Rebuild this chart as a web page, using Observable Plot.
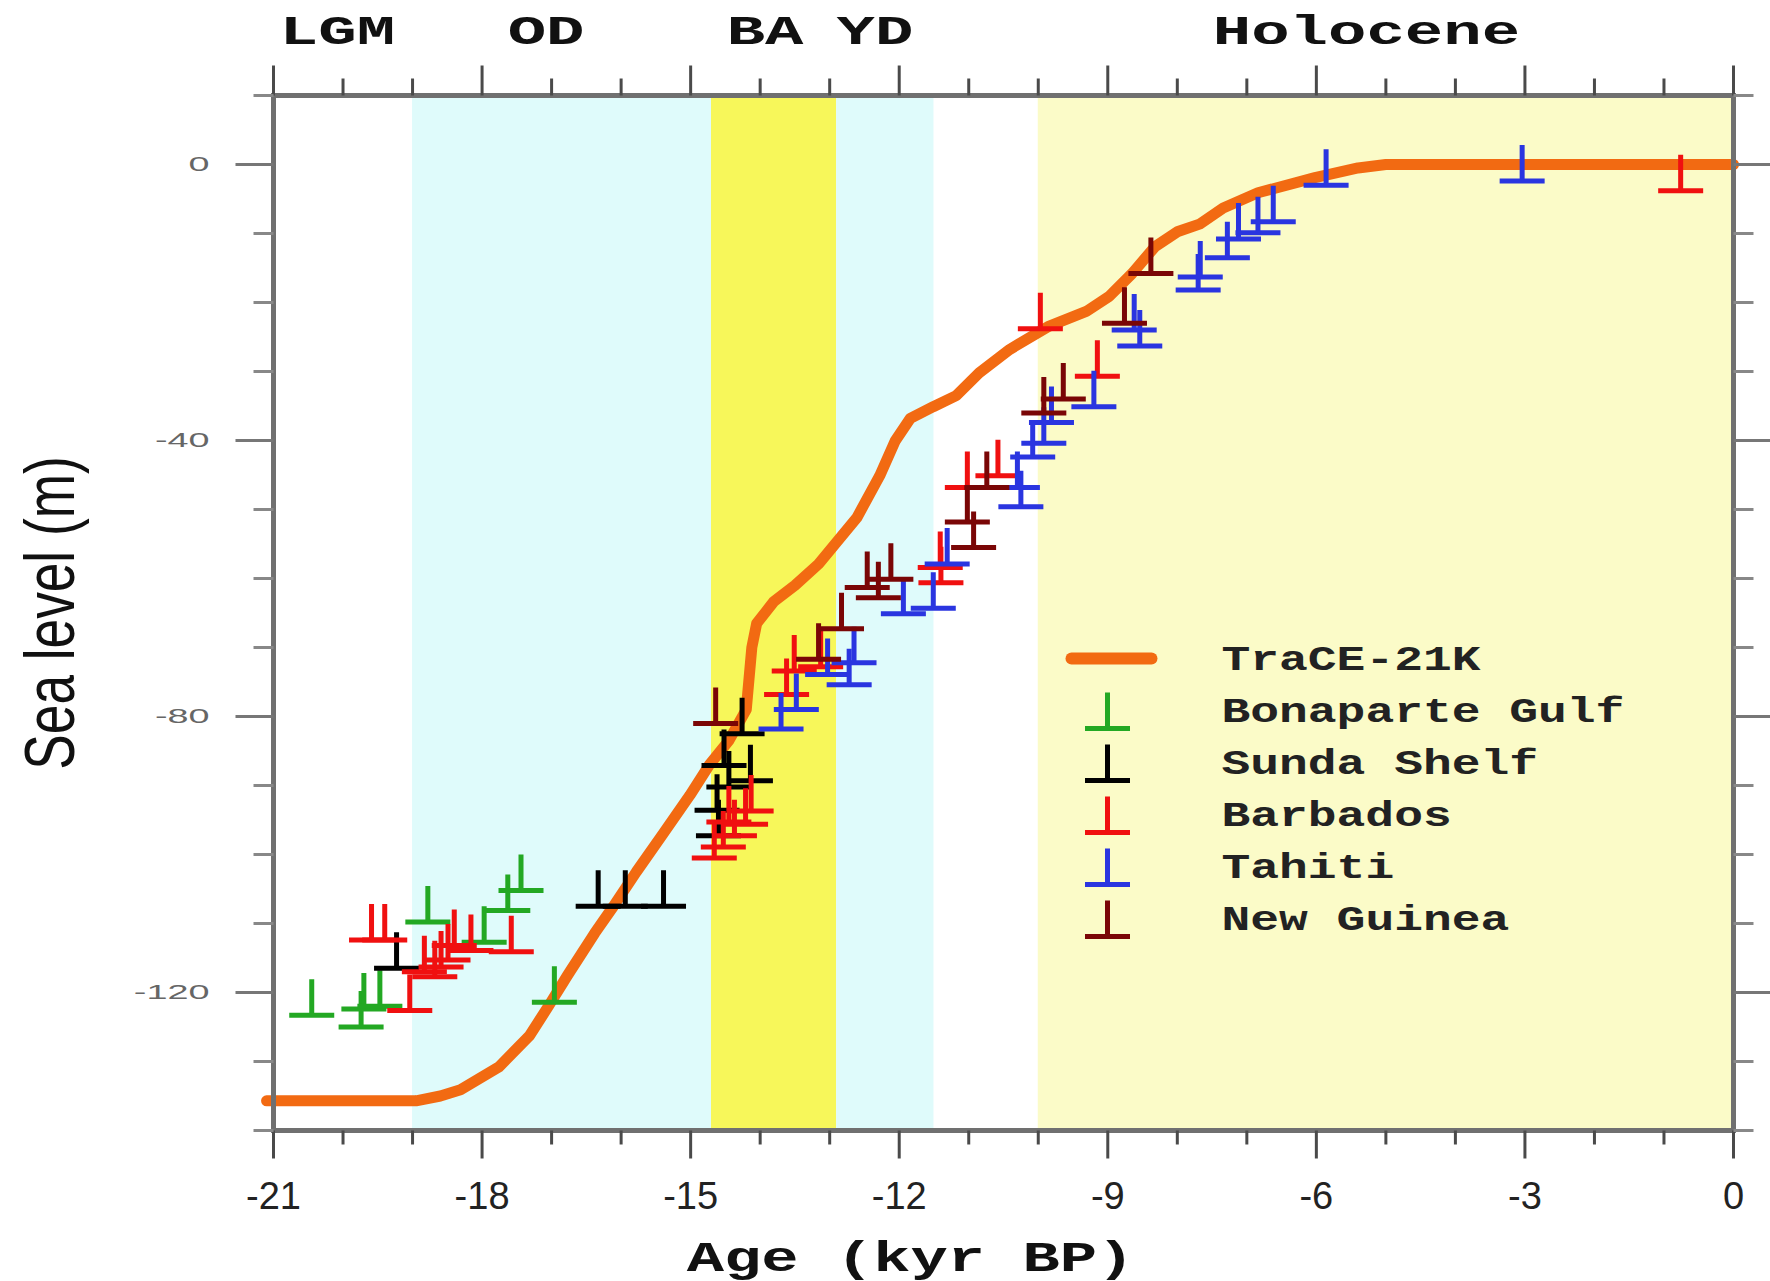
<!DOCTYPE html>
<html>
<head>
<meta charset="utf-8">
<script src="https://cdn.jsdelivr.net/npm/d3@7"></script>
<script src="https://cdn.jsdelivr.net/npm/@observablehq/plot@0.6"></script>
<style>html,body{margin:0;padding:0;background:#fff;}</style>
</head>
<body>
<div id="chart"></div>
<script>
// ---- TraCE-21K simulated sea level (kyr BP, m)
const traceAge = [-21.1,-18.95,-18.6,-18.31,-17.76,-17.32,-17.04,-16.77,-16.38,-16.11,-15.78,-15.39,-15.01,-14.73,-14.45,-14.2,-14.12,-14.05,-13.8,-13.5,-13.16,-12.61,-12.28,-12.06,-11.84,-11.51,-11.18,-10.85,-10.41,-9.86,-9.31,-8.98,-8.65,-8.32,-7.99,-7.67,-7.34,-6.84,-6.02,-5.4,-5.0,0];
const traceSL  = [-135.7,-135.7,-135.0,-134.1,-130.8,-126.3,-121.9,-117.5,-111.4,-107.5,-102.5,-96.9,-91.4,-87.0,-83.5,-79.0,-70.0,-66.5,-63.3,-61.0,-57.9,-51.2,-45.1,-40.1,-36.8,-35.1,-33.5,-30.2,-26.8,-23.5,-21.3,-19.1,-15.8,-11.9,-9.7,-8.6,-6.3,-4.1,-1.9,-0.5,0,0];

// ---- Proxy reconstructions
const bonaparteAge = [-20.45,-19.74,-19.7,-19.47,-18.78,-17.97,-17.63,-17.44,-16.96];
const bonaparteSL  = [-123.3,-125.0,-122.4,-122.0,-109.8,-112.7,-108.1,-105.2,-121.4];

const sundaAge = [-19.23,-16.33,-15.94,-15.39,-14.26,-14.52,-14.14,-14.45,-14.62,-14.6];
const sundaSL  = [-116.5,-107.5,-107.5,-107.5,-82.5,-87.1,-89.3,-90.2,-93.6,-97.3];

const barbadosAge = [-19.59,-19.40,-19.04,-18.83,-18.68,-18.59,-18.49,-18.40,-18.16,-17.58,-14.66,-14.53,-14.37,-14.21,-14.13,-14.45,-13.62,-13.51,-13.13,-11.41,-11.40,-11.02,-10.58,-9.97,-9.15,-0.76];
const barbadosSL  = [-112.4,-112.4,-122.6,-117.0,-117.7,-116.3,-115.3,-113.2,-113.9,-114.1,-100.5,-98.9,-97.3,-95.6,-93.7,-95.3,-76.8,-73.4,-72.8,-58.4,-60.6,-46.8,-45.1,-23.8,-30.7,-3.8];

const tahitiAge = [-13.7,-13.48,-13.03,-12.72,-12.65,-11.94,-11.51,-11.31,-10.30,-10.25,-10.08,-9.92,-9.81,-9.2,-8.62,-8.54,-7.70,-7.67,-7.28,-7.12,-6.84,-6.62,-5.86,-3.04];
const tahitiSL  = [-81.8,-79.0,-73.9,-75.4,-72.2,-65.1,-64.3,-57.9,-46.8,-49.6,-42.4,-40.4,-37.4,-35.1,-24.0,-26.3,-18.2,-16.3,-13.5,-10.8,-9.9,-8.3,-3.0,-2.4];

const guineaAge = [-14.64,-13.16,-12.83,-12.46,-12.3,-12.12,-11.02,-10.93,-10.74,-9.92,-9.64,-8.76,-8.38];
const guineaSL  = [-81.0,-71.7,-67.3,-61.3,-62.8,-60.1,-51.8,-55.5,-46.8,-36.0,-34.0,-23.0,-15.8];

// ---- Climate periods (shading) and their labels
const bandStart = [-19.0,-14.7,-12.9,-10.0];
const bandEnd   = [-14.7,-12.9,-11.5,0.0];
const bandFill  = ["#dffbfb","#f7f75a","#dffbfb","#fbfbc8"];

const periodNames = ["LGM","OD","BA","YD","Holocene"];
const periodAt    = [-20.08,-17.08,-13.93,-12.35,-5.28];

// ---- Axis ticks
const xMajor = d3.range(-21, 1, 3);
const xMinor = d3.range(-21, 1).filter(d => d % 3 !== 0);
const yMajor = [0,-40,-80,-120];
const yMinor = d3.range(-140, 11, 10).filter(d => !yMajor.includes(d));

const xTitle = "Age (kyr BP)";
const yTitle = "Sea level (m)";

// ---- Series metadata
const seriesNames  = ["Bonaparte Gulf","Sunda Shelf","Barbados","Tahiti","New Guinea"];
const seriesColors = ["#23a823","#000000","#f01010","#2a35e0","#7a0606"];
const seriesAges   = [bonaparteAge, sundaAge, barbadosAge, tahitiAge, guineaAge];
const seriesSLs    = [bonaparteSL, sundaSL, barbadosSL, tahitiSL, guineaSL];
const traceName = "TraCE-21K";
const traceColor = "#f26a12";

// tables built from arrays
const trace = traceAge.map((a, i) => ({age: a, sl: traceSL[i]}));
const bands = bandStart.map((s, i) => ({start: s, end: bandEnd[i], fill: bandFill[i]}));
const periods = periodNames.map((n, i) => ({name: n, at: periodAt[i]}));
const series = seriesNames.map((n, i) => ({
  name: n, color: seriesColors[i],
  rows: seriesAges[i].map((a, j) => ({age: a, sl: seriesSLs[i][j]}))
}));

// symbols (pixel-space shapes)
const tee = {
  draw(ctx, size) {
    const r = Math.sqrt(size / Math.PI);
    ctx.moveTo(-2.25 * r, 0); ctx.lineTo(2.25 * r, 0);
    ctx.moveTo(0, 0); ctx.lineTo(0, -3.6 * r);
  }
};
const dash = {
  draw(ctx, size) {
    const r = Math.sqrt(size / Math.PI);
    ctx.moveTo(-4 * r, 0); ctx.lineTo(4 * r, 0);
  }
};
const vTick = len => ({draw(ctx) { ctx.moveTo(0, 0); ctx.lineTo(0, len); }});
const hTick = len => ({draw(ctx) { ctx.moveTo(0, 0); ctx.lineTo(len, 0); }});

const monoFont = "Liberation Mono, DejaVu Sans Mono, monospace";
const sansFont = "Liberation Sans, Arial, sans-serif";
const axisColor = "#4a4a4a";

function xTicks(values, anchor, len, color) {
  return Plot.dot(values, {x: d => d, frameAnchor: anchor, symbol: vTick(len), stroke: color, strokeWidth: 3, fill: "none"});
}
function yTicks(values, anchor, len, color) {
  return Plot.dot(values, {y: d => d, frameAnchor: anchor, symbol: hTick(len), stroke: color, strokeWidth: 3, fill: "none"});
}

const legendMarks = [
  Plot.dot([traceName], {frameAnchor: "top-left", dx: 838, dy: 563, symbol: dash, r: 10, stroke: traceColor, strokeWidth: 12, strokeLinecap: "round", fill: "none"}),
  Plot.text([traceName], {frameAnchor: "top-left", dx: 948, dy: 563, text: d => d, textAnchor: "start", lineAnchor: "middle", fontFamily: monoFont, fontWeight: "bold", fontSize: 35, fill: "#222"})
];
series.forEach((s, i) => {
  legendMarks.push(Plot.dot([s.name], {frameAnchor: "top-left", dx: 834, dy: 581 + 52 * (i + 1), symbol: tee, r: 10, stroke: s.color, strokeWidth: 5, fill: "none"}));
  legendMarks.push(Plot.text([s.name], {frameAnchor: "top-left", dx: 948, dy: 563 + 52 * (i + 1), text: d => d, textAnchor: "start", lineAnchor: "middle", fontFamily: monoFont, fontWeight: "bold", fontSize: 35, fill: "#222"}));
});

const chart = Plot.plot({
  width: 1770,
  height: 1281,
  marginLeft: 273,
  marginRight: 37,
  marginTop: 95,
  marginBottom: 151,
  style: {background: "white", overflow: "visible"},
  x: {domain: [-21, 0], axis: null},
  y: {domain: [-140, 10], axis: null},
  marks: [
    Plot.rect(bands, {x1: "start", x2: "end", fill: "fill"}),
    Plot.line(trace, {x: "age", y: "sl", stroke: traceColor, strokeWidth: 11, strokeLinejoin: "round"}),
    ...series.map(s => Plot.dot(s.rows, {x: "age", y: "sl", symbol: tee, r: 10, stroke: s.color, strokeWidth: 5, fill: "none"})),
    Plot.frame({stroke: "#707070", strokeWidth: 5}),
    xTicks(xMajor, "bottom", 28, axisColor),
    xTicks(xMinor, "bottom", 14, axisColor),
    xTicks(xMajor, "top", -30, axisColor),
    xTicks(xMinor, "top", -17, axisColor),
    yTicks(yMajor, "left", -38, "#777"),
    yTicks(yMinor, "left", -20, "#888"),
    yTicks(yMajor, "right", 38, "#777"),
    yTicks(yMinor, "right", 20, "#888"),
    // tick labels
    Plot.text(xMajor, {x: d => d, text: d => String(d), frameAnchor: "bottom", dy: 66, textAnchor: "middle", lineAnchor: "middle", fontFamily: sansFont, fontSize: 38, fill: "#222"}),
    Plot.text(yMajor, {y: d => d, text: d => String(d), frameAnchor: "left", dx: -64, textAnchor: "end", lineAnchor: "middle", fontFamily: sansFont, fontSize: 21, fill: "#666"}),
    // period labels on top
    Plot.text(periods, {x: "at", text: "name", frameAnchor: "top", dy: -64, textAnchor: "middle", lineAnchor: "middle", fontFamily: monoFont, fontWeight: "bold", fontSize: 40, fill: "#111"}),
    // axis titles
    Plot.text([xTitle], {frameAnchor: "bottom", text: d => d, dx: -93, dy: 127, textAnchor: "middle", lineAnchor: "middle", fontFamily: monoFont, fontWeight: "bold", fontSize: 42, fill: "#111"}),
    Plot.text([yTitle], {frameAnchor: "left", text: d => d, rotate: -90, dx: -222, textAnchor: "middle", lineAnchor: "middle", fontFamily: sansFont, fontSize: 70, fill: "#111"}),
    ...legendMarks
  ]
});

document.getElementById("chart").appendChild(chart);

// horizontal stretch of the bitmap-like fonts of the original (glyph widening)
const stretchFactor = new Map();
periodNames.forEach(n => stretchFactor.set(n, 1.6));
[traceName, ...seriesNames].forEach(n => stretchFactor.set(n, 1.37));
stretchFactor.set(xTitle, 1.48);
stretchFactor.set(yTitle, 0.76);
const yLabelStretch = 1.8;
const yLabelTexts = new Set(yMajor.map(String));

chart.querySelectorAll("text").forEach(t => {
  let f = stretchFactor.get(t.textContent);
  const g = t.closest("g[text-anchor]");
  if (!f && yLabelTexts.has(t.textContent) && g && g.getAttribute("text-anchor") === "end") f = yLabelStretch;
  if (!f) return;
  const L = t.getComputedTextLength();
  if (!(L > 0)) return;
  t.setAttribute("textLength", (L * f).toFixed(1));
  t.setAttribute("lengthAdjust", "spacingAndGlyphs");
});
</script>
</body>
</html>
